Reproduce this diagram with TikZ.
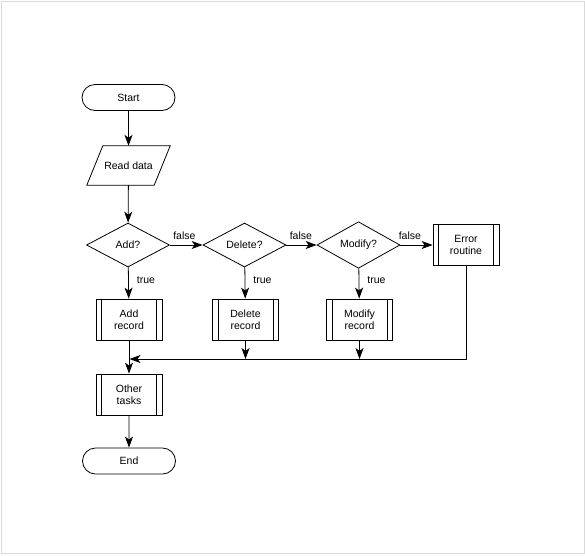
\documentclass[tikz,border=0pt]{standalone}
\usepackage{fontspec}
\setmainfont{Liberation Sans}
\usetikzlibrary{shapes.geometric,shapes.misc,arrows.meta}
\begin{document}
\begin{tikzpicture}[x=1pt,y=-1pt,
  every node/.style={font=\fontsize{10.5}{12.5}\selectfont, align=center, inner sep=0pt},
  line/.style={line width=0.8pt, draw=black},
  arr/.style={line, -{Stealth[length=11pt,width=8pt,inset=3pt]}},
  term/.style={line, rounded rectangle, minimum width=93pt, minimum height=26pt},
  dec/.style={line, diamond, minimum width=83pt, minimum height=44pt},
  proc/.style={line, rectangle, minimum width=66pt, minimum height=41pt},
  io/.style={rectangle, minimum width=67pt, minimum height=39pt},
  lbl/.style={font=\fontsize{10.5}{12.5}\selectfont}
]
\useasboundingbox (0,0) rectangle (585,555);
\draw[gray!30, line width=0.6pt] (1,1) rectangle (584,553);

\node[term] (start) at (128.5,97.5) {Start};
\node[io] (rd) at (128.5,165.5) {Read data};
\draw[line] ([xshift=8pt]rd.north west) -- ([xshift=8pt]rd.north east)
  -- ([xshift=-8pt]rd.south east) -- ([xshift=-8pt]rd.south west) -- cycle;

\node[dec] (add) at (128,245) {Add?};
\node[dec] (del) at (244.5,245) {Delete?};
\node[dec] (mod) at (358.5,245) {Modify?};
\node[proc] (err) at (466,245) {Error\\routine};

\node[proc] (addr) at (129,319.5) {Add\\record};
\node[proc] (delr) at (245.5,319.5) {Delete\\record};
\node[proc] (modr) at (359.5,319.5) {Modify\\record};
\node[proc] (oth) at (129,394.5) {Other\\tasks};
\node[term] (end) at (129,461) {End};

\foreach \n in {err,addr,delr,modr,oth}{
  \draw[line] ([xshift=6pt]\n.north west) -- ([xshift=6pt]\n.south west);
  \draw[line] ([xshift=-6pt]\n.north east) -- ([xshift=-6pt]\n.south east);
}

\draw[arr] (start) -- (rd);
\draw[arr] (rd) -- (add);
\draw[arr] (add) -- node[lbl, pos=0, anchor=south west, xshift=3pt, yshift=5pt] {false} (del);
\draw[arr] (del) -- node[lbl, pos=0, anchor=south west, xshift=3pt, yshift=5pt] {false} (mod);
\draw[arr] (mod) -- node[lbl, pos=0, anchor=south west, xshift=-2pt, yshift=5pt] {false} (err);

\draw[arr] (add) -- node[lbl, pos=0.4, anchor=west, xshift=8pt] {true} (addr);
\draw[arr] (del) -- node[lbl, pos=0.4, anchor=west, xshift=8pt] {true} (delr);
\draw[arr] (mod) -- node[lbl, pos=0.4, anchor=west, xshift=8pt] {true} (modr);

\coordinate (m) at (129.5,359);
\draw[arr] (err.south) |- (m);
\draw[arr] (delr.south) -- (delr.south |- m);
\draw[arr] (modr.south) -- (modr.south |- m);
\draw[arr] (addr) -- (oth);
\draw[arr] (oth) -- (end);
\end{tikzpicture}
\end{document}
